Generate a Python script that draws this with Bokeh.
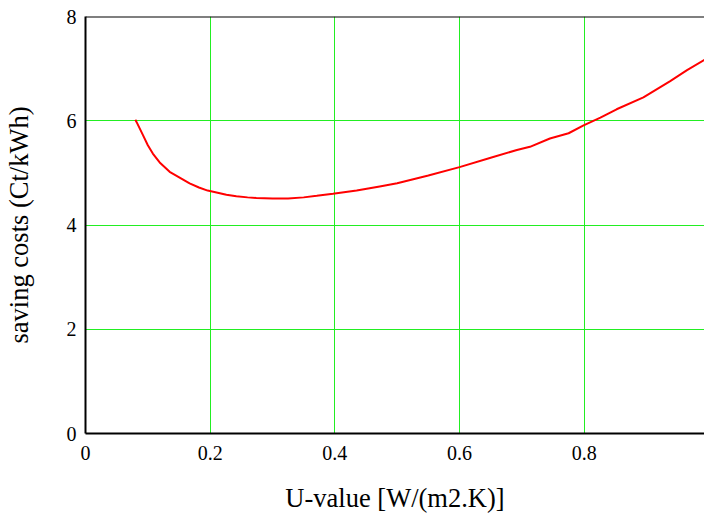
from bokeh.plotting import figure
from bokeh.embed import file_html
from bokeh.resources import INLINE
from bokeh.models import Range1d, FixedTicker, Span

u_values = [0.080, 0.083, 0.092, 0.100, 0.108, 0.119, 0.135, 0.151, 0.167, 0.182, 0.196,
            0.212, 0.226, 0.242, 0.260, 0.274, 0.300, 0.325, 0.350, 0.371, 0.397, 0.435,
            0.472, 0.500, 0.550, 0.600, 0.650, 0.692, 0.713, 0.745, 0.775, 0.799, 0.826,
            0.852, 0.895, 0.938, 0.965, 0.993]
saving_costs = [6.02, 5.95, 5.73, 5.53, 5.37, 5.20, 5.02, 4.91, 4.80, 4.72, 4.66,
                4.62, 4.58, 4.55, 4.53, 4.52, 4.51, 4.51, 4.53, 4.56, 4.60, 4.66,
                4.74, 4.80, 4.95, 5.11, 5.29, 5.44, 5.50, 5.66, 5.76, 5.91, 6.06,
                6.22, 6.45, 6.76, 6.97, 7.17]
x_ticks = [0, 0.2, 0.4, 0.6, 0.8]
y_ticks = [0, 2, 4, 6, 8]

FONT = "Liberation Serif"

p = figure(width=704, height=515, output_backend="svg", toolbar_location=None,
           x_range=Range1d(0, 0.993), y_range=Range1d(0, 8),
           min_border_left=80, min_border_right=0, min_border_top=16, min_border_bottom=70)
p.background_fill_color = "white"
p.border_fill_color = "white"
p.outline_line_color = None

p.line(u_values, saving_costs, line_color="#ff0000", line_width=2)

for ax in (p.xaxis[0], p.yaxis[0]):
    ax.axis_line_color = "black"
    ax.axis_line_width = 2
    ax.major_tick_line_color = None
    ax.minor_tick_line_color = None
    ax.major_label_text_font = FONT
    ax.major_label_text_font_size = "20px"
    ax.major_label_text_color = "black"
    ax.axis_label_text_font = FONT
    ax.axis_label_text_font_size = "26.5px"
    ax.axis_label_text_font_style = "normal"
    ax.axis_label_text_color = "black"

p.xaxis.ticker = FixedTicker(ticks=x_ticks)
p.yaxis.ticker = FixedTicker(ticks=y_ticks)
p.xaxis.major_label_overrides = {0: "0", 0.2: "0.2", 0.4: "0.4", 0.6: "0.6", 0.8: "0.8"}
p.xaxis.axis_label = "U-value [W/(m2.K)]"
p.yaxis.axis_label = "saving costs (Ct/kWh)"
p.xaxis.major_label_standoff = 6
p.yaxis.major_label_standoff = 3
p.xaxis.axis_label_standoff = 20
p.yaxis.axis_label_standoff = 30

p.xgrid.ticker = FixedTicker(ticks=[0.2, 0.4, 0.6, 0.8])
p.ygrid.ticker = FixedTicker(ticks=[2, 4, 6])
p.grid.grid_line_color = "#22ee22"
p.grid.grid_line_width = 1

top_line = Span(location=8, dimension="width", line_color="black", line_width=2)
p.add_layout(top_line)

open("out.html", "w").write(file_html(p, INLINE))
